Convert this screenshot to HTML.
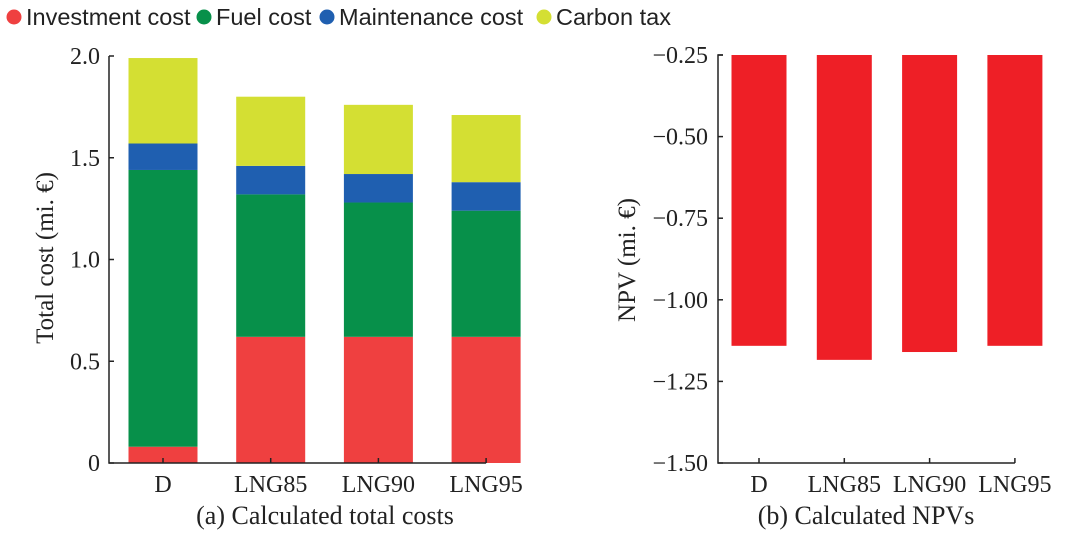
<!DOCTYPE html>
<html><head><meta charset="utf-8"><style>
body{margin:0;background:#fff;width:1079px;height:536px;overflow:hidden}
svg text{font-family:"Liberation Serif",serif;fill:#222}
</style></head><body>
<svg id="c" width="1079" height="536"></svg>
<script>
const cats=["D","LNG85","LNG90","LNG95"];
const invest=[0.08,0.62,0.62,0.62];
const fuel=[1.36,0.70,0.66,0.62];
const maint=[0.13,0.14,0.14,0.14];
const carbon=[0.42,0.34,0.34,0.33];
const npv=[-1.141,-1.184,-1.160,-1.141];
const leftTicks=["0","0.5","1.0","1.5","2.0"];
const leftTickVals=[0,0.5,1.0,1.5,2.0];
const rightTickVals=[-0.25,-0.5,-0.75,-1.0,-1.25,-1.5];
const rightTicks=["\u22120.25","\u22120.50","\u22120.75","\u22121.00","\u22121.25","\u22121.50"];
const seriesNames=["Investment cost","Fuel cost","Maintenance cost","Carbon tax"];
const colors=["#ef4040","#07904a","#1f5fb0","#d4df33"];
const S=document.getElementById('c');const NS="http://www.w3.org/2000/svg";
function mk(t,a,p){const e=document.createElementNS(NS,t);for(const k in a)e.setAttribute(k,a[k]);(p||S).appendChild(e);return e;}
const ly=v=>463-v*203.5; const lx=i=>163+i*107.7; const bw=69;
const gL=mk('g',{});
const stacks=[invest,fuel,maint,carbon];
cats.forEach((c,i)=>{let base=0;stacks.forEach((s,k)=>{const r=mk('rect',{x:lx(i)-bw/2,y:ly(base+s[i]),width:bw,height:ly(base)-ly(base+s[i]),fill:colors[k]},gL);
base+=s[i];});});
mk('path',{d:`M109,${ly(2)}V463H${lx(3)}`,stroke:'#222','stroke-width':1.5,fill:'none'},gL);
leftTickVals.forEach((v,i)=>{mk('line',{x1:109,x2:114,y1:ly(v),y2:ly(v),stroke:'#222','stroke-width':1.5},gL);
const t=mk('text',{x:100,y:ly(v)+8,'text-anchor':'end','font-size':24},gL);t.textContent=leftTicks[i];});
cats.forEach((c,i)=>{mk('line',{x1:lx(i),x2:lx(i),y1:463,y2:458,stroke:'#222','stroke-width':1.5},gL);
const t=mk('text',{x:lx(i),y:492,'text-anchor':'middle','font-size':24},gL);t.textContent=c;});
let t=mk('text',{x:53,y:258,'text-anchor':'middle','font-size':25,transform:'rotate(-90 53 258)'},gL);t.textContent="Total cost (mi. \u20ac)";
t=mk('text',{x:325,y:524,'text-anchor':'middle','font-size':26},gL);t.textContent="(a) Calculated total costs";
const lg=mk('g',{});
const lpos=[6,196,319,536];
seriesNames.forEach((n,k)=>{const g=mk('g',{},lg);
mk('circle',{cx:lpos[k]+8,cy:17,r:7.5,fill:colors[k]},g);const tt=mk('text',{x:lpos[k]+20,y:25,'font-size':23.5,style:'font-family:"Liberation Sans",sans-serif'},g);tt.textContent=n;});
const ry=v=>55+(-0.25-v)*326.4; const rx=i=>759+i*85.3; const rbw=55;
const gR=mk('g',{});
cats.forEach((c,i)=>{const r=mk('rect',{x:rx(i)-rbw/2,y:ry(-0.25),width:rbw,height:ry(npv[i])-ry(-0.25),fill:'#ee1f26'},gR);});
mk('path',{d:`M723,55H718V463H${rx(3)}`,stroke:'#222','stroke-width':1.5,fill:'none'},gR);
rightTickVals.forEach((v,i)=>{mk('line',{x1:718,x2:723,y1:ry(v),y2:ry(v),stroke:'#222','stroke-width':1.5},gR);
const tt=mk('text',{x:708,y:ry(v)+8,'text-anchor':'end','font-size':24},gR);tt.textContent=rightTicks[i];});
cats.forEach((c,i)=>{mk('line',{x1:rx(i),x2:rx(i),y1:463,y2:458,stroke:'#222','stroke-width':1.5},gR);
const tt=mk('text',{x:rx(i),y:492,'text-anchor':'middle','font-size':24},gR);tt.textContent=c;});
t=mk('text',{x:635,y:260,'text-anchor':'middle','font-size':25,transform:'rotate(-90 635 260)'},gR);t.textContent="NPV (mi. \u20ac)";
t=mk('text',{x:866,y:524,'text-anchor':'middle','font-size':26},gR);t.textContent="(b) Calculated NPVs";
</script>
</body></html>
